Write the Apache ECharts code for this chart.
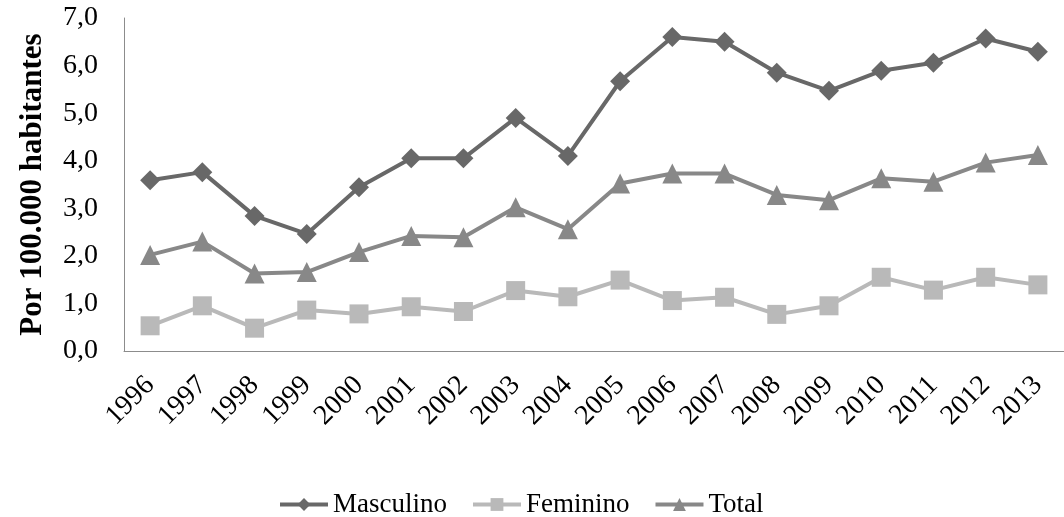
<!DOCTYPE html>
<html><head><meta charset="utf-8">
<script src="https://cdn.jsdelivr.net/npm/echarts@6/dist/echarts.min.js"></script>
<style>html,body{margin:0;padding:0;background:#fff}#c{width:1064px;height:517px}</style>
</head><body><div id="c"></div>
<script>
const years = ['1996','1997','1998','1999','2000','2001','2002','2003','2004','2005','2006','2007','2008','2009','2010','2011','2012','2013'];
const masculino = [3.59,3.76,2.84,2.46,3.44,4.05,4.05,4.90,4.10,5.67,6.60,6.50,5.85,5.47,5.89,6.06,6.57,6.29];
const feminino  = [0.53,0.95,0.48,0.86,0.78,0.93,0.83,1.27,1.14,1.49,1.06,1.13,0.77,0.95,1.55,1.28,1.55,1.39];
const total     = [2.02,2.30,1.63,1.66,2.08,2.42,2.39,3.02,2.56,3.52,3.73,3.73,3.28,3.17,3.63,3.56,3.96,4.12];
const seriesNames = ['Masculino','Feminino','Total'];
const font = '"Liberation Serif", "Times New Roman", serif';
const chart = echarts.init(document.getElementById('c'));
function s(name, data, color, symbol, size){
  return {name, type:'line', data, symbol, symbolSize:size,
    lineStyle:{color, width:4}, itemStyle:{color}, animation:false};
}
chart.setOption({
  textStyle:{fontFamily:font},
  grid:{left:124, right:-16, top:18, bottom:166},
  legend:{bottom:-6, left:273, itemWidth:48, itemHeight:16, itemGap:24,
    lineStyle:{width:4},
    textStyle:{fontFamily:font, fontSize:27, color:'#000'},
    data:seriesNames},
  xAxis:{type:'category', data:years, boundaryGap:true,
    axisLine:{lineStyle:{color:'#8c8c8c', width:1}}, axisTick:{show:false},
    axisLabel:{rotate:45, fontFamily:font, fontSize:28, color:'#000', margin:30, interval:0}},
  yAxis:{type:'value', min:0, max:7, interval:1,
    name:'Por 100.000 habitantes', nameLocation:'middle', nameGap:76, nameRotate:90,
    nameTextStyle:{fontFamily:font, fontSize:31, fontWeight:'bold', color:'#000'},
    axisLine:{show:true, lineStyle:{color:'#8c8c8c', width:1}}, axisTick:{show:false},
    splitLine:{show:false},
    axisLabel:{fontFamily:font, fontSize:28, color:'#000', margin:26,
      formatter:v=>v.toFixed(1).replace('.',',')}},
  series:[
    s('Masculino', masculino, '#686868', 'diamond', 20),
    s('Feminino', feminino, '#b9b9b9', 'rect', 19),
    s('Total', total, '#888888', 'triangle', 20)
  ]
});
</script></body></html>
